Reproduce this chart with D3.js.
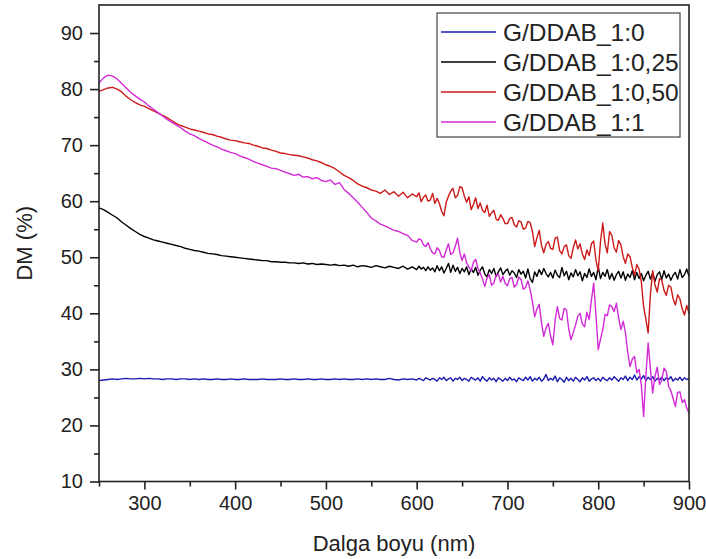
<!DOCTYPE html>
<html>
<head>
<meta charset="utf-8">
<script src="https://cdn.jsdelivr.net/npm/d3@7"></script>
<style>
  body { margin: 0; background: #fff; }
  svg text { font-family: "Liberation Sans", Arial, sans-serif; fill: #222; }
</style>
</head>
<body>
<svg id="chart" width="706" height="559"></svg>
<script>
// wavelength grid (nm): 5 nm steps up to 595, then 2.5 nm steps in the noisy part
const wavelengths = d3.range(250, 600, 5).concat(d3.range(600, 900.01, 2.5));

const seriesNames = ["G/DDAB_1:0", "G/DDAB_1:0,25", "G/DDAB_1:0,50", "G/DDAB_1:1"];
const seriesColors = ["#1a1ab0", "#000000", "#cc1a1a", "#d22ad6"];

const dm10 = [
  28.0, 28.1, 28.2, 28.3, 28.2, 28.3, 28.4, 28.3, 28.3, 28.4,
  28.3, 28.4, 28.3, 28.3, 28.2, 28.3, 28.3, 28.2, 28.3, 28.3,
  28.2, 28.3, 28.2, 28.3, 28.2, 28.2, 28.3, 28.2, 28.2, 28.3,
  28.2, 28.2, 28.3, 28.2, 28.2, 28.2, 28.3, 28.2, 28.2, 28.2,
  28.3, 28.2, 28.2, 28.3, 28.2, 28.2, 28.3, 28.2, 28.2, 28.3,
  28.2, 28.2, 28.3, 28.2, 28.3, 28.2, 28.2, 28.3, 28.2, 28.3,
  28.2, 28.3, 28.2, 28.2, 28.4, 28.2, 28.1, 28.3, 28.2, 28.3,
  // 600 - 900
  28.1, 28.4, 28.2, 28.0, 28.5, 28.3, 28.1, 28.4, 28.2, 27.9,
  28.5, 28.2, 28.6, 28.0, 28.3, 28.5, 27.9, 28.4, 28.2, 28.6,
  28.0, 28.4, 28.2, 27.9, 28.6, 28.3, 28.1, 28.5, 27.9, 28.7,
  28.2, 27.9, 28.5, 28.1, 28.4, 27.8, 28.5, 28.2, 27.9, 28.4,
  28.0, 28.6, 28.1, 28.3, 27.8, 28.5, 28.2, 28.0, 28.6, 28.1,
  28.7, 27.9, 28.4, 28.1, 28.6, 27.9, 28.3, 29.1, 28.0, 28.4,
  28.1, 28.8, 27.8, 28.5, 28.2, 27.7, 28.6, 28.0, 28.4, 27.9,
  28.6, 28.2, 27.8, 28.5, 28.1, 28.7, 27.9, 28.3, 28.5, 28.0,
  28.4, 27.9, 28.6, 28.2, 28.0, 28.5, 28.1, 28.7, 28.3, 27.9,
  28.5, 28.2, 28.8, 28.0, 28.6, 28.2, 29.0, 28.1, 28.7, 28.3,
  28.9, 28.0, 28.6, 28.2, 28.7, 27.9, 28.4, 28.1, 28.6, 28.0,
  28.5, 28.2, 28.7, 27.9, 28.4, 28.1, 28.6, 28.0, 28.5, 28.2,
  28.3
];

const dm1025 = [
  58.8, 58.5, 58.0, 57.5, 57.0, 56.3, 55.7, 55.1, 54.6, 54.1,
  53.7, 53.4, 53.1, 52.9, 52.7, 52.5, 52.3, 52.1, 51.9, 51.6,
  51.4, 51.2, 51.1, 50.9, 50.7, 50.6, 50.5, 50.3, 50.2, 50.1,
  50.0, 49.9, 49.8, 49.7, 49.6, 49.5, 49.4, 49.4, 49.2, 49.2,
  49.1, 49.1, 49.0, 49.0, 48.9, 49.0, 48.8, 48.9, 48.7, 48.8,
  48.7, 48.6, 48.7, 48.5, 48.6, 48.4, 48.6, 48.3, 48.5, 48.4,
  48.2, 48.5, 48.3, 48.1, 48.4, 48.2, 48.0, 48.4, 47.9, 48.3,
  // 600 - 900
  47.8, 48.4, 47.9, 48.2, 47.6, 48.3, 47.7, 48.1, 47.4, 48.5,
  47.6, 48.3, 47.2, 48.0, 48.9, 47.3, 48.6, 47.5, 48.2, 47.1,
  48.0, 47.4, 48.3, 46.9, 47.9, 47.3, 48.2, 46.8, 47.7, 48.3,
  47.0, 46.5, 47.8, 47.1, 48.0, 46.6, 47.4, 48.1, 46.9, 47.5,
  47.9, 46.8, 47.6, 47.2, 46.4, 47.8, 47.0, 47.5, 46.3, 47.9,
  46.2, 45.5, 47.4, 46.6, 47.8, 46.9, 48.0, 47.1, 46.5, 47.3,
  46.3, 47.7, 46.8, 46.4, 48.2, 46.7, 47.5, 46.0, 47.2, 46.5,
  47.8, 46.7, 47.4, 45.8, 47.1, 46.4, 47.9, 46.6, 47.3, 46.0,
  48.3, 46.2, 47.3, 46.6, 47.8, 46.1, 47.1, 45.9, 46.9, 47.5,
  46.3, 47.4, 45.9, 47.0, 46.4, 47.6, 46.0, 47.3, 46.2, 47.1,
  45.8, 46.8, 47.5, 46.1, 47.2, 45.7, 46.9, 47.4, 46.0, 47.6,
  46.3, 47.0, 45.9, 46.8, 47.3, 46.1, 47.8, 46.4, 46.9, 47.9,
  46.6
];

const dm1050 = [
  79.6, 79.9, 80.2, 80.3, 80.0, 79.5, 78.7, 78.1, 77.6, 77.2,
  76.9, 76.5, 76.1, 75.7, 75.3, 74.9, 74.4, 73.9, 73.5, 73.2,
  72.9, 72.7, 72.5, 72.3, 72.0, 71.9, 71.6, 71.4, 71.1, 70.9,
  70.8, 70.6, 70.4, 70.3, 70.0, 69.8, 69.5, 69.4, 69.1, 68.9,
  68.6, 68.5, 68.3, 68.2, 68.1, 67.9, 67.7, 67.4, 67.2, 66.9,
  66.5, 66.2, 65.8, 65.2, 64.6, 64.2, 63.7, 63.1, 62.7, 62.4,
  62.0, 61.8, 61.4, 62.0, 61.2, 61.7, 60.9, 61.6, 60.6, 61.3,
  // 600 - 900
  60.8, 61.5, 59.9, 60.7, 61.1, 60.0, 60.2, 61.4, 59.6, 60.5,
  59.6, 58.2, 57.4, 59.8, 60.9, 61.8, 62.3, 60.6, 61.0, 62.6,
  62.4, 60.9, 59.8, 60.8, 58.5, 59.4, 60.6, 58.7, 59.7, 58.4,
  58.0, 59.3, 57.3, 57.9, 58.4, 56.8, 56.6, 57.6, 56.9, 56.0,
  56.0, 56.9, 57.1, 55.8, 55.4, 56.5, 56.3, 55.0, 55.2, 56.4,
  56.2, 54.6, 51.9, 53.5, 54.8, 52.1, 50.8, 52.3, 52.8, 51.6,
  51.4, 53.4, 53.6, 51.2, 50.6, 51.9, 52.2, 50.3, 49.8, 51.7,
  53.1, 51.5, 52.4, 50.6, 49.6, 51.3, 50.3, 52.4, 52.9, 49.5,
  47.6, 52.8, 56.1, 52.4, 50.8, 54.6, 53.9, 51.7, 50.9, 53.0,
  52.2, 50.1, 48.9, 50.6, 50.1, 48.2, 46.8, 48.7, 47.9, 45.6,
  41.2, 38.9, 36.5, 43.4, 47.6, 45.1, 43.8, 46.2, 45.9, 44.1,
  43.2, 45.0, 44.7, 42.6, 41.5, 43.3, 42.6, 40.8, 39.7, 41.4,
  40.0
];

const dm11 = [
  81.1, 82.0, 82.5, 82.3, 81.8, 81.0, 80.2, 79.4, 78.8, 78.2,
  77.7, 77.0, 76.4, 75.8, 75.2, 74.6, 74.1, 73.6, 73.1, 72.5,
  72.0, 71.7, 71.2, 70.8, 70.4, 70.0, 69.7, 69.3, 69.0, 68.7,
  68.5, 68.1, 67.8, 67.5, 67.1, 66.8, 66.5, 66.2, 65.9, 65.8,
  65.5, 65.2, 64.9, 64.6, 64.8, 64.3, 64.4, 64.0, 64.2, 63.7,
  63.5, 63.8, 63.0, 63.3, 62.1, 61.4, 60.6, 59.8, 58.9, 58.0,
  57.0, 56.5, 55.9, 55.6, 55.2, 54.8, 54.6, 54.2, 53.9, 53.0,
  // 600 - 900
  52.7, 53.3, 53.1, 52.2, 51.9, 52.6, 51.5, 50.8, 50.6, 51.7,
  51.2, 50.1, 50.0, 51.3, 52.4, 50.5, 50.8, 51.9, 53.4, 50.9,
  49.4, 50.6, 49.0, 48.3, 47.6, 49.1, 49.6, 48.0, 47.2, 46.1,
  44.8, 46.3, 46.9, 45.0, 45.4, 46.8, 47.0, 45.6, 46.6, 45.3,
  44.9, 46.2, 46.4, 44.7, 45.1, 46.5, 46.0, 44.3, 44.6, 45.8,
  44.2, 42.1, 39.4, 40.8, 41.6, 38.3, 35.9, 37.4, 38.2, 36.0,
  34.4, 38.7, 41.2, 39.1, 38.8, 40.9, 40.6, 37.2, 35.3, 36.6,
  37.9, 39.5, 40.0, 38.1, 37.6, 40.2, 38.9, 42.3, 45.4, 39.7,
  33.5, 35.4, 37.1, 39.8, 39.6, 41.5, 41.2, 40.3, 41.8, 39.2,
  37.1, 38.6, 36.5, 33.1, 30.5, 31.8, 32.3, 29.4, 30.0, 27.2,
  21.6, 28.9, 34.7, 30.1, 25.8, 28.7, 30.4, 27.3, 28.1, 30.2,
  29.6, 27.0, 26.2, 24.8, 23.4, 25.9, 26.0, 24.1, 24.6, 23.1,
  22.2
];

const seriesValues = [dm10, dm1025, dm1050, dm11];

const yTicks = [10, 20, 30, 40, 50, 60, 70, 80, 90];
const yMinor = [15, 25, 35, 45, 55, 65, 75, 85];
const xTicks = [300, 400, 500, 600, 700, 800, 900];
const xMinor = [250, 350, 450, 550, 650, 750, 850];

const svg = d3.select("#chart");
const mLeft = 99, mRight = 689, mTop = 5, mBottom = 481.5;

let x = d3.scaleLinear().domain([250, 900]).range([mLeft, mRight]);
let y = d3.scaleLinear().domain([10, 95]).range([mBottom, mTop]);

// curves
let line = d3.line()
  .x((d, i) => x(wavelengths[i]))
  .y((d) => y(d));

svg.append("g")
  .selectAll("path")
  .data(seriesValues)
  .enter()
  .append("path")
  .attr("d", (d) => line(d))
  .attr("fill", "none")
  .attr("stroke", (d, i) => seriesColors[i])
  .attr("stroke-width", 1.4)
  .attr("stroke-linejoin", "round");

// frame
svg.append("rect")
  .attr("x", mLeft).attr("y", mTop)
  .attr("width", mRight - mLeft).attr("height", mBottom - mTop)
  .attr("fill", "none").attr("stroke", "#222").attr("stroke-width", 1.6);

// x axis, major + minor ticks
svg.append("g")
  .attr("transform", `translate(0,${mBottom})`)
  .call(d3.axisBottom(x).tickValues(xTicks).tickSize(8).tickSizeOuter(0).tickPadding(6));
svg.append("g")
  .attr("transform", `translate(0,${mBottom})`)
  .call(d3.axisBottom(x).tickValues(xMinor).tickSize(5).tickSizeOuter(0).tickFormat(""));

// y axis, major + minor ticks
svg.append("g")
  .attr("transform", `translate(${mLeft},0)`)
  .call(d3.axisLeft(y).tickValues(yTicks).tickSize(9).tickSizeOuter(0).tickPadding(7));
svg.append("g")
  .attr("transform", `translate(${mLeft},0)`)
  .call(d3.axisLeft(y).tickValues(yMinor).tickSize(5).tickSizeOuter(0).tickFormat(""));

svg.selectAll(".domain").remove();
svg.selectAll(".tick line").attr("stroke", "#222").attr("stroke-width", 1.6);
svg.selectAll(".tick text").style("font-size", "20px").attr("fill", "#333");

// axis titles
svg.append("text")
  .attr("x", (mLeft + mRight) / 2).attr("y", 551)
  .attr("text-anchor", "middle")
  .style("font-size", "22px")
  .text("Dalga boyu (nm)");

svg.append("text")
  .attr("transform", `translate(32,${(mTop + mBottom) / 2}) rotate(-90)`)
  .attr("text-anchor", "middle")
  .style("font-size", "22px")
  .text("DM (%)");

// legend
let legend = svg.append("g");
legend.append("rect")
  .attr("x", 437).attr("y", 13)
  .attr("width", 243).attr("height", 124)
  .attr("fill", "#fff").attr("stroke", "#444").attr("stroke-width", 1.2);

let rows = legend.selectAll("g.row")
  .data(seriesNames)
  .enter()
  .append("g")
  .attr("class", "row")
  .attr("transform", (d, i) => `translate(0,${32 + i * 30})`);

rows.append("line")
  .attr("x1", 441).attr("x2", 496)
  .attr("stroke", (d, i) => seriesColors[i])
  .attr("stroke-width", 1.3);

rows.append("text")
  .attr("x", 503).attr("dy", "0.36em")
  .style("font-size", "24.5px")
  .text((d) => d);
</script>
</body>
</html>
